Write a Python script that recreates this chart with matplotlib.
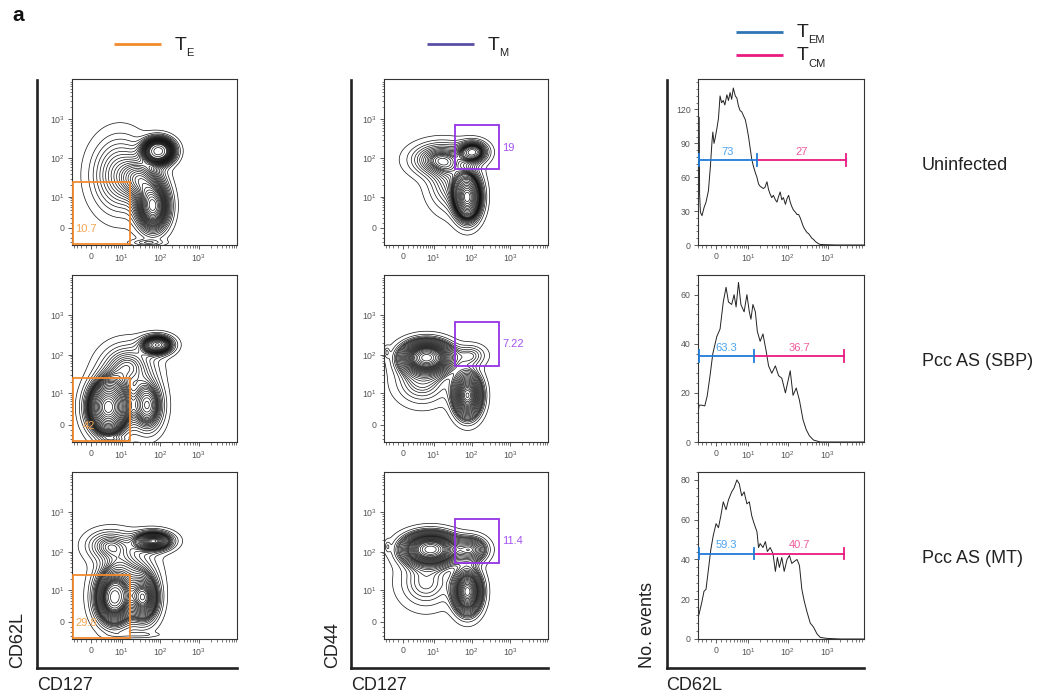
import numpy as np
import matplotlib.pyplot as plt
from matplotlib.lines import Line2D
from matplotlib.patches import Rectangle
from matplotlib.ticker import FixedLocator, NullFormatter, MultipleLocator

plt.rcParams['font.family'] = ['Liberation Sans', 'DejaVu Sans']
plt.rcParams['mathtext.default'] = 'regular'

W, H = 1040, 699

# biexponential-like display (arcsinh), 1 unit = 1 decade far from zero
C = 3.26
LN10 = np.log(10)


def biex(x):
    return np.arcsinh(np.asarray(x, dtype=float) / C) / LN10


def biex_inv(u):
    return C * np.sinh(np.asarray(u, dtype=float) * LN10)


# ---------------- data ----------------
row_names = ['Uninfected', 'Pcc AS (SBP)', 'Pcc AS (MT)']

te_pct = ['10.7', '42', '29.8']
tm_pct = ['19', '7.22', '11.4']
tem_pct = ['73', '63.3', '59.3']
tcm_pct = ['27', '36.7', '40.7']

# gates (fluorescence units)
te_gate_cd127 = 16
te_gate_cd62l = 25
tm_gate_cd127 = (36, 500)
tm_gate_cd44 = (52, 700)
tem_cut = [17.3, 14.5, 14.5]
tcm_end = [2900, 2500, 2500]
gate_level = [75, 35, 43]

hist_ymax = [147, 68, 84]
hist_yticks = [[0, 30, 60, 90, 120], [0, 20, 40, 60], [0, 20, 40, 60, 80]]

# populations: [centre x, centre y, spread x, spread y, weight], in display decades
te_uninf = [[1.74, 1.97, 0.22, 0.18, 1.00],
            [1.60, 0.55, 0.24, 0.36, 0.60],
            [1.30, 1.25, 0.30, 0.32, 0.25],
            [0.75, 1.35, 0.45, 0.60, 0.18],
            [1.45, -0.38, 0.28, 0.05, 0.06]]
te_sbp = [[1.72, 2.04, 0.25, 0.15, 0.55],
          [0.45, 0.45, 0.32, 0.42, 1.00],
          [1.46, 0.49, 0.26, 0.42, 0.40],
          [0.95, 1.50, 0.45, 0.38, 0.25],
          [0.60, -0.38, 0.25, 0.04, 0.06]]
te_mt = [[1.62, 2.06, 0.30, 0.15, 0.55],
         [0.45, 1.95, 0.38, 0.25, 0.20],
         [0.60, 0.60, 0.30, 0.42, 0.75],
         [1.37, 0.60, 0.24, 0.38, 0.55],
         [0.95, 1.35, 0.45, 0.45, 0.18],
         [1.20, -0.33, 0.40, 0.04, 0.05]]
tm_uninf = [[1.68, 0.78, 0.20, 0.34, 1.00],
            [1.82, 1.95, 0.22, 0.16, 0.45],
            [0.95, 1.75, 0.45, 0.26, 0.28],
            [1.25, 1.15, 0.36, 0.45, 0.18]]
tm_sbp = [[0.62, 1.72, 0.38, 0.24, 1.00],
          [-0.42, 1.85, 0.05, 0.10, 0.06],
          [1.68, 0.75, 0.22, 0.34, 0.70],
          [1.77, 1.77, 0.26, 0.18, 0.12],
          [0.50, 1.10, 0.45, 0.38, 0.15]]
tm_mt = [[0.72, 1.85, 0.42, 0.24, 1.00],
         [-0.40, 1.92, 0.05, 0.10, 0.06],
         [1.77, 1.84, 0.26, 0.20, 0.35],
         [1.68, 0.77, 0.22, 0.34, 0.75],
         [0.60, 1.00, 0.45, 0.42, 0.15]]

# CD62L histograms: channel position (display decades) and No. events
h_uninf_u = [-0.42, -0.41, -0.39, -0.35, -0.30, -0.25, -0.19, -0.14, -0.10, -0.08,
             -0.05, -0.02, 0.02, 0.06, 0.10, 0.14, 0.18, 0.22, 0.27, 0.31,
             0.35, 0.39, 0.43, 0.48, 0.52, 0.56, 0.60, 0.64, 0.69, 0.73,
             0.77, 0.81, 0.85, 0.89, 0.93, 0.98, 1.02, 1.06, 1.10, 1.14,
             1.18, 1.22, 1.27, 1.31, 1.35, 1.39, 1.43, 1.48, 1.52, 1.56,
             1.60, 1.64, 1.68, 1.73, 1.77, 1.81, 1.85, 1.89, 1.93, 1.98,
             2.02, 2.06, 2.10, 2.14, 2.18, 2.23, 2.27, 2.31, 2.35, 2.39,
             2.43, 2.48, 2.52, 2.56, 2.60, 2.68, 2.80, 3.00, 3.30, 3.68]
h_uninf_n = [113, 45, 29, 26, 33, 38, 48, 70, 92, 100,
             90, 95, 103, 112, 132, 126, 128, 124, 133, 128,
             135, 129, 139, 132, 130, 123, 119, 118, 114, 111,
             104, 96, 86, 76, 70, 64, 60, 54, 52, 51,
             50, 51, 56, 49, 45, 42, 44, 40, 38, 43,
             47, 40, 42, 36, 41, 44, 38, 34, 31, 29,
             27, 27, 24, 20, 16, 13, 11, 10, 8, 6,
             5, 3, 2, 1, 0.5, 0.3, 0.2, 0, 0, 0]
h_sbp_u = [-0.46, -0.44, -0.42, -0.36, -0.28, -0.22, -0.15, -0.08, 0.02, 0.10,
           0.18, 0.25, 0.31, 0.39, 0.45, 0.50, 0.56, 0.62, 0.70, 0.77,
           0.83, 0.87, 0.92, 0.98, 1.03, 1.10, 1.17, 1.25, 1.31, 1.39,
           1.48, 1.56, 1.64, 1.73, 1.81, 1.85, 1.92, 2.00, 2.08, 2.17,
           2.25, 2.33, 2.43, 2.60, 3.00, 3.68]
h_sbp_n = [22, 13, 15, 15, 14.7, 18.8, 27, 36, 43, 46,
           57, 63, 57, 56, 60, 55, 65, 56, 53, 60,
           53, 50, 56, 53, 45, 41, 44, 37, 31, 28,
           31, 27, 26, 20, 26, 29, 19, 22, 17, 9,
           5, 2.5, 0.8, 0, 0, 0]
h_mt_u = [-0.46, -0.43, -0.36, -0.30, -0.25, -0.19, -0.13, -0.07, 0.00, 0.06,
          0.12, 0.18, 0.25, 0.31, 0.39, 0.45, 0.52, 0.58, 0.64, 0.70,
          0.77, 0.83, 0.89, 0.95, 1.02, 1.06, 1.10, 1.17, 1.23, 1.28,
          1.35, 1.42, 1.48, 1.53, 1.58, 1.64, 1.70, 1.77, 1.83, 1.89,
          1.95, 2.02, 2.08, 2.14, 2.20, 2.27, 2.35, 2.43, 2.52, 2.60,
          2.77, 3.10, 3.68]
h_mt_n = [16, 12, 18, 24, 25, 35, 45, 52, 58, 56,
          62, 69, 65, 70, 74, 76, 80, 78, 72, 74,
          68, 69, 62, 58, 54, 46, 48, 46, 49, 44,
          46, 43, 34, 41, 36, 41, 34, 40, 42, 38,
          39, 40, 37, 25, 19, 13.5, 8, 6, 2.5, 0.8,
          0.3, 0, 0]

te_pops = [te_uninf, te_sbp, te_mt]
tm_pops = [tm_uninf, tm_sbp, tm_mt]
hist_u = [h_uninf_u, h_sbp_u, h_mt_u]
hist_n = [h_uninf_n, h_sbp_n, h_mt_n]

# ---------------- styles ----------------
ORANGE = '#f28a2e'
ORANGE_TXT = '#f6a552'
PURPLE = '#9433e6'
PURPLE_TXT = '#a453f0'
TM_LEG = '#5a4fa6'
BLUE = '#1f7bd8'
BLUE_TXT = '#4aa3ee'
BLUE_LEG = '#2e75b6'
PINK = '#e81a7e'
PINK_TXT = '#ef5c9e'
TICK_C = '#555555'

fig = plt.figure(figsize=(W / 100, H / 100), dpi=100)


def fx(px):
    return px / W


def fy(py):
    return 1 - py / H


def add_ax(left, top, right, bottom, **kw):
    return fig.add_axes([fx(left), fy(bottom), (right - left) / W, (bottom - top) / H], **kw)


major_vals = [0, 10, 100, 1000]
major_labels = ['0', '$10^1$', '$10^2$', '$10^3$']
minor_vals = [-4, -3, -2, -1] + [m * 10 ** k for k in range(0, 4) for m in range(1, 10) if m > 1 or k == 0]


def set_biex(axis):
    axis._set_axes_scale('function', functions=(biex, biex_inv))
    axis.set_major_locator(FixedLocator(major_vals))
    axis.set_ticklabels(major_labels)
    axis.set_minor_locator(FixedLocator(minor_vals))
    axis.set_minor_formatter(NullFormatter())


def style_box(ax):
    for s in ax.spines.values():
        s.set_linewidth(0.8)
        s.set_color('#333333')
    ax.tick_params(which='major', length=3.2, width=0.6, color='#444444',
                   labelsize=6.3, labelcolor=TICK_C, pad=2)
    ax.tick_params(which='minor', length=1.8, width=0.5, color='#444444')


# density grid in display decades
gu = np.linspace(-0.6, 3.9, 360)
GX, GY = np.meshgrid(gu, gu)


def density(pops):
    z = np.zeros_like(GX)
    for cx, cy, sx, sy, w in pops:
        r2 = ((GX - cx) / sx) ** 2 + ((GY - cy) / sy) ** 2
        z += w * np.exp(-0.5 * r2)
    return z


def prob_levels(z, probs):
    # equal-probability contour levels (as in FlowJo)
    zs = np.sort(z.ravel())[::-1]
    cs = np.cumsum(zs) / zs.sum()
    lv = zs[np.searchsorted(cs, probs)]
    return np.unique(lv)


probs = np.linspace(0.03, 0.98, 30)

col_left = [72, 384, 698]
col_right = [237, 548, 864]
row_top = [79, 275, 472]
row_bot = [245, 442, 639]

for r in range(3):
    for c, pops in ((0, te_pops[r]), (1, tm_pops[r])):
        ax = add_ax(col_left[c], row_top[r], col_right[c], row_bot[r])
        set_biex(ax.xaxis)
        set_biex(ax.yaxis)
        ax.set_xlim(biex_inv(-0.49), biex_inv(3.77))
        ax.set_ylim(biex_inv(-0.44), biex_inv(3.82))
        z = density(pops)
        ax.contour(biex_inv(GX), biex_inv(GY), z, levels=prob_levels(z, probs),
                   colors='#111111', linewidths=0.5)
        style_box(ax)
        if c == 0:
            x0 = biex_inv(-0.47)
            y0 = biex_inv(-0.41)
            ax.add_patch(Rectangle((x0, y0), te_gate_cd127 - x0, te_gate_cd62l - y0,
                                   fill=False, ec=ORANGE, lw=1.3, zorder=5))
            ax.text(0.02 if r != 1 else 0.065, 0.098, te_pct[r], transform=ax.transAxes,
                    color=ORANGE_TXT, fontsize=8, ha='left', va='center', zorder=6)
        else:
            ax.add_patch(Rectangle((tm_gate_cd127[0], tm_gate_cd44[0]),
                                   tm_gate_cd127[1] - tm_gate_cd127[0],
                                   tm_gate_cd44[1] - tm_gate_cd44[0],
                                   fill=False, ec=PURPLE, lw=1.3, zorder=5))
            ax.text(0.72, 0.585, tm_pct[r], transform=ax.transAxes,
                    color=PURPLE_TXT, fontsize=8, ha='left', va='center')

    # CD62L histogram
    ax = add_ax(col_left[2], row_top[r], col_right[2], row_bot[r])
    set_biex(ax.xaxis)
    ax.set_xlim(biex_inv(-0.45), biex_inv(3.69))
    ax.set_ylim(0, hist_ymax[r])
    ax.plot(biex_inv(hist_u[r]), hist_n[r], color='#222222', lw=0.7)
    ax.yaxis.set_major_locator(FixedLocator(hist_yticks[r]))
    ax.yaxis.set_minor_locator(MultipleLocator(hist_yticks[r][1] / 5))
    style_box(ax)
    xl = biex_inv(-0.43)
    yg = gate_level[r]
    cap = hist_ymax[r] * 0.035
    ax.plot([xl, tem_cut[r]], [yg, yg], color=BLUE, lw=1.3, zorder=5)
    ax.plot([tem_cut[r], tcm_end[r]], [yg, yg], color=PINK, lw=1.3, zorder=5)
    for xx, cc in ((xl, BLUE), (tem_cut[r], BLUE), (tcm_end[r], PINK)):
        ax.plot([xx, xx], [yg - cap, yg + cap], color=cc, lw=1.3, zorder=5)
    mid_b = biex_inv((biex(xl) + biex(tem_cut[r])) / 2)
    mid_p = biex_inv((biex(tem_cut[r]) + biex(tcm_end[r])) / 2)
    ax.annotate(tem_pct[r], (mid_b, yg), xytext=(0, 2.5), textcoords='offset points',
                ha='center', va='bottom', color=BLUE_TXT, fontsize=8)
    ax.annotate(tcm_pct[r], (mid_p, yg), xytext=(0, 2.5), textcoords='offset points',
                ha='center', va='bottom', color=PINK_TXT, fontsize=8)

    fig.text(fx(922), fy((row_top[r] + row_bot[r]) / 2 + 3), row_names[r],
             fontsize=13, color='#222222', ha='left', va='center')

# big L-shaped outer axes
L_left = [37, 351, 667]
for c in range(3):
    bg = add_ax(L_left[c], 80, col_right[c], 668, zorder=-1)
    bg.set_facecolor('none')
    bg.set_xticks([])
    bg.set_yticks([])
    for s in ('top', 'right'):
        bg.spines[s].set_visible(False)
    for s in ('left', 'bottom'):
        bg.spines[s].set_linewidth(1.9)
        bg.spines[s].set_color('#222222')

ylabels = [('CD62L', 18), ('CD44', 333), ('No. events', 647)]
for txt, x in ylabels:
    fig.text(fx(x), fy(668), txt, rotation=90, ha='center', va='bottom',
             fontsize=13, color='#222222')
xlabels = [('CD127', 37), ('CD127', 351), ('CD62L', 666)]
for txt, x in xlabels:
    fig.text(fx(x), fy(686), txt, ha='left', va='center', fontsize=13, color='#222222')


def legend_entry(x0, x1, y, color, sub, ty, sy):
    fig.add_artist(Line2D([fx(x0), fx(x1)], [fy(y), fy(y)], transform=fig.transFigure,
                          color=color, lw=2.0, solid_capstyle='butt'))
    fig.text(fx(x1 + 14), fy(ty), 'T', fontsize=14, color='#222222', ha='left', va='baseline')
    fig.text(fx(x1 + 25), fy(sy), sub, fontsize=8, color='#222222', ha='left', va='baseline')


legend_entry(114, 161, 44, ORANGE, 'E', 50, 56)
legend_entry(427, 474, 44, TM_LEG, 'M', 50, 56)
legend_entry(736, 783, 32, BLUE_LEG, 'EM', 37, 43)
legend_entry(736, 783, 55, PINK, 'CM', 60, 67)

fig.text(fx(12), fy(21), 'a', fontsize=15, fontweight='bold', color='#111111',
         ha='left', va='baseline')

fig.savefig('out.png', dpi=100)
